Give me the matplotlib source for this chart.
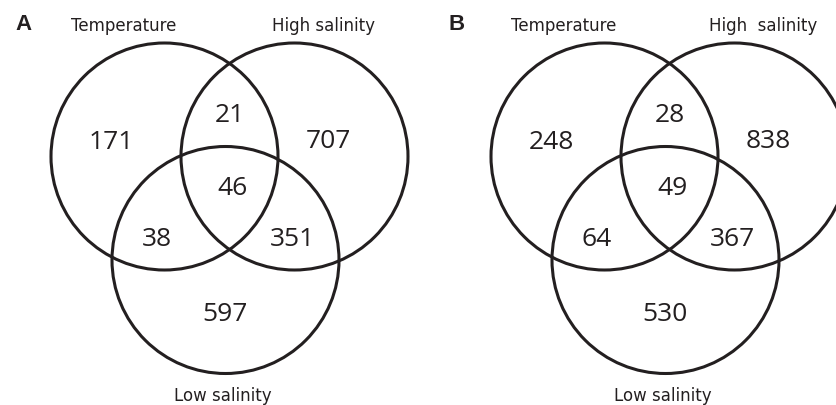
import matplotlib.pyplot as plt
from matplotlib.patches import Circle

# data
panels = ["A", "B"]
set_names = ["Temperature", "High salinity", "Low salinity"]
set_names_b = ["Temperature", "High  salinity", "Low salinity"]
# region order: T only, T&H, H only, all, T&L, H&L, L only
counts_a = [171, 21, 707, 46, 38, 351, 597]
counts_b = [248, 28, 838, 49, 64, 367, 530]

ink = "#231f20"

# layout (pixel coords, per panel, panel B shifted right)
offsets = [0, 440]
r = 113.5
centers = [(164.5, 156.5), (294.5, 156.5), (225.5, 260.0)]
region_xy = [(111, 149), (230, 122), (328, 148), (233, 195),
             (157, 246), (292, 246), (225, 321)]
name_xy = [(124, 31), (323, 31), (223, 401)]
tag_xy = [(24, 30), (457 - 440, 30)]

fig = plt.figure(figsize=(8.36, 4.05), dpi=100)
ax = fig.add_axes([0, 0, 1, 1])
ax.set_xlim(0, 836)
ax.set_ylim(405, 0)
ax.set_aspect("equal")
ax.axis("off")

for k, (tag, names, counts) in enumerate(zip(panels, [set_names, set_names_b], [counts_a, counts_b])):
    dx = offsets[k]
    for cx, cy in centers:
        ax.add_patch(Circle((cx + dx, cy), r, fill=False, ec=ink, lw=2.2))
    for (x, y), n in zip(region_xy, counts):
        ax.text(x + dx, y, str(n), ha="center", va="baseline",
                fontsize=19, family="Open Sans", color=ink)
    for (x, y), s in zip(name_xy, names):
        ax.text(x + dx, y, s, ha="center", va="baseline",
                fontsize=12, family="DejaVu Sans", color=ink)
    ax.text(tag_xy[k][0] + dx, tag_xy[k][1], tag, ha="center", va="baseline",
            fontsize=16, fontweight="bold", family="Liberation Sans", color=ink)

fig.savefig("out.png", dpi=100)
